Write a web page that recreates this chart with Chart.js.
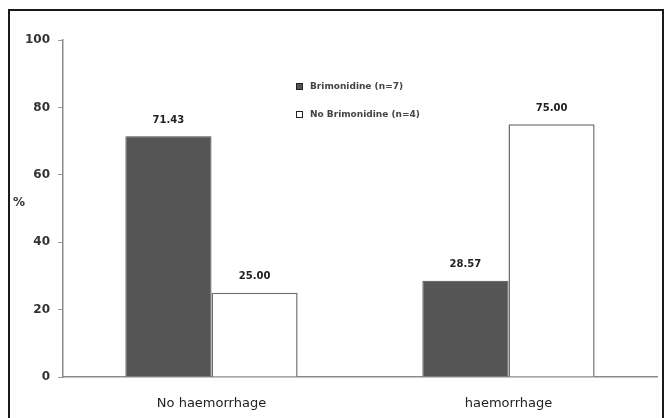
<!DOCTYPE html>
<html lang="en">
<head>
  <meta charset="UTF-8">
  <title>Brimonidine haemorrhage</title>
  <script src="https://cdn.jsdelivr.net/npm/chart.js"></script>
  <style>
    body { margin: 0; background: #fff; }
    .frame {
      position: absolute;
      left: 8px; top: 9px;
      width: 652px; height: 420px;
      border: 2px solid #1a1a1a;
      border-bottom: none;
    }
    #chart { position: absolute; left: 0; top: 0; }
  </style>
</head>
<body>
  <div class="frame"></div>
  <canvas id="chart" width="667" height="418"></canvas>
  <script>
    var categories = ["No haemorrhage", "haemorrhage"];
    var brimonidine = [71.43, 28.57];
    var noBrimonidine = [25.00, 75.00];
    var seriesLabels = ["Brimonidine (n=7)", "No Brimonidine (n=4)"];
    var yTicks = [0, 20, 40, 60, 80, 100];

    // value labels above bars, legend inside the plot, "%" axis label
    var extras = {
      id: "extras",
      afterDatasetsDraw: function (chart) {
        var ctx = chart.ctx;
        ctx.save();
        ctx.fillStyle = "#222";
        ctx.font = "bold 10px 'DejaVu Sans', sans-serif";
        ctx.textAlign = "center";
        ctx.textBaseline = "middle";
        chart.data.datasets.forEach(function (ds, i) {
          chart.getDatasetMeta(i).data.forEach(function (bar, j) {
            ctx.fillText(ds.data[j].toFixed(2), bar.x, bar.y - 16);
          });
        });

        // legend
        ctx.font = "bold 9px 'DejaVu Sans', sans-serif";
        ctx.textAlign = "left";
        chart.data.datasets.forEach(function (ds, i) {
          var y = 87 + i * 28;
          ctx.fillStyle = ds.backgroundColor;
          ctx.fillRect(296, y - 4, 7, 7);
          ctx.strokeStyle = "#222";
          ctx.lineWidth = 1;
          ctx.strokeRect(296.5, y - 3.5, 6, 6);
          ctx.fillStyle = "#444";
          ctx.fillText(ds.label, 310, y);
        });

        ctx.font = "bold 12px 'DejaVu Sans', sans-serif";
        ctx.fillStyle = "#333";
        ctx.textAlign = "center";
        ctx.fillText("%", 19, 203);
        ctx.restore();
      }
    };

    var chart = new Chart(document.getElementById("chart").getContext("2d"), {
      type: "bar",
      data: {
        labels: categories,
        datasets: [{
          label: seriesLabels[0],
          data: brimonidine,
          backgroundColor: "#555555",
          borderColor: "#4a4a4a",
          borderWidth: 1
        }, {
          label: seriesLabels[1],
          data: noBrimonidine,
          backgroundColor: "#ffffff",
          borderColor: "#6e6e6e",
          borderWidth: 1.5
        }]
      },
      options: {
        responsive: false,
        animation: false,
        layout: { padding: { left: 0, right: 10, top: 40, bottom: 0 } },
        plugins: {
          legend: { display: false },
          tooltip: { enabled: false }
        },
        datasets: {
          bar: { barPercentage: 1, categoryPercentage: 0.58 }
        },
        scales: {
          x: {
            grid: { display: false, drawTicks: false },
            border: { color: "#8a8a8a", width: 1.5 },
            ticks: {
              padding: 19,
              color: "#222",
              font: { family: "'DejaVu Sans', sans-serif", size: 13 }
            },
            afterFit: function (scale) { scale.height = 41; }
          },
          y: {
            min: 0,
            max: 100,
            afterBuildTicks: function (scale) {
              scale.ticks = yTicks.map(function (v) { return { value: v }; });
            },
            grid: { drawOnChartArea: false, tickLength: 5, color: "#9a9a9a" },
            border: { color: "#8a8a8a", width: 1.5 },
            ticks: {
              padding: 8,
              color: "#333",
              font: { family: "'DejaVu Sans', sans-serif", size: 12, weight: "bold" }
            },
            afterFit: function (scale) { scale.width = 63; }
          }
        }
      },
      plugins: [extras]
    });
  </script>
</body>
</html>
